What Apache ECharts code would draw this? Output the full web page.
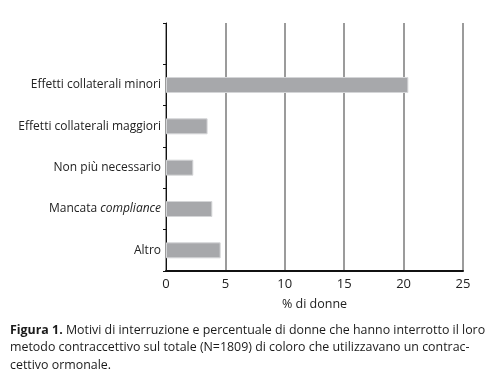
<!DOCTYPE html>
<html><head><meta charset="utf-8">
<script src="https://cdn.jsdelivr.net/npm/echarts@6/dist/echarts.min.js"></script>
<style>html,body{margin:0;padding:0;background:#fff}#c{width:500px;height:389px}</style>
</head><body><div id="c"></div>
<script>
const categories = ['', 'Effetti collaterali minori', 'Effetti collaterali maggiori', 'Non più necessario', 'Mancata compliance', 'Altro'];
const values = [null, 20.4, 3.5, 2.3, 3.9, 4.6];
const xTicks = [0, 5, 10, 15, 20, 25];
const xTitle = '% di donne';
const captionBold = 'Figura 1.';
const captionLines = [
  ' Motivi di interruzione e percentuale di donne che hanno interrotto il loro',
  'metodo contraccettivo sul totale (N=1809) di coloro che utilizzavano un contrac-',
  'cettivo ormonale.'
];
const F = '"Open Sans", sans-serif';
const chart = echarts.init(document.getElementById('c'));
chart.setOption({
  animation: false,
  grid: {left: 166, right: 37, top: 23, bottom: 118},
  xAxis: {
    type: 'value', min: xTicks[0], max: xTicks[xTicks.length-1], interval: 5,
    name: xTitle, nameLocation: 'middle', nameGap: 27,
    nameTextStyle: {fontFamily: F, fontSize: 12.5, color: '#222'},
    axisLine: {show: true, lineStyle: {color: '#111', width: 2}},
    axisTick: {show: false},
    axisLabel: {fontFamily: F, fontSize: 13, color: '#222', margin: 7},
    splitLine: {show: true, lineStyle: {color: '#7a7a7a', width: 1.5}}
  },
  yAxis: {
    type: 'category', data: categories, inverse: true,
    axisLine: {show: true, lineStyle: {color: '#111', width: 1}},
    axisTick: {show: true, length: 3, lineStyle: {color: '#111'}},
    axisLabel: {
      fontFamily: F, fontSize: 12, color: '#222', margin: 5,
      formatter: function (v) {
        if (v === 'Mancata compliance') return '{n|Mancata }{i|compliance}';
        return '{n|' + v + '}';
      },
      rich: {
        n: {fontFamily: F, fontSize: 12, color: '#222'},
        i: {fontFamily: F, fontSize: 12, color: '#222', fontStyle: 'italic'}
      }
    }
  },
  series: [{
    type: 'bar', data: values, barWidth: 16,
    itemStyle: {color: '#a7a8ab', borderColor: '#d4d5d7', borderWidth: 1}
  }],
  graphic: captionLines.map(function (t, i) {
    return {
      type: 'text', left: 10, top: 324 + i * 17.5,
      style: {
        text: i === 0 ? '{b|' + captionBold + '}{n|' + t + '}' : '{n|' + t + '}',
        rich: {
          b: {fontFamily: F, fontSize: 12.4, fontWeight: 'bold', fill: '#1a1a1a'},
          n: {fontFamily: F, fontSize: 12.4, fill: '#1a1a1a'}
        }
      }
    };
  })
});
</script></body></html>
